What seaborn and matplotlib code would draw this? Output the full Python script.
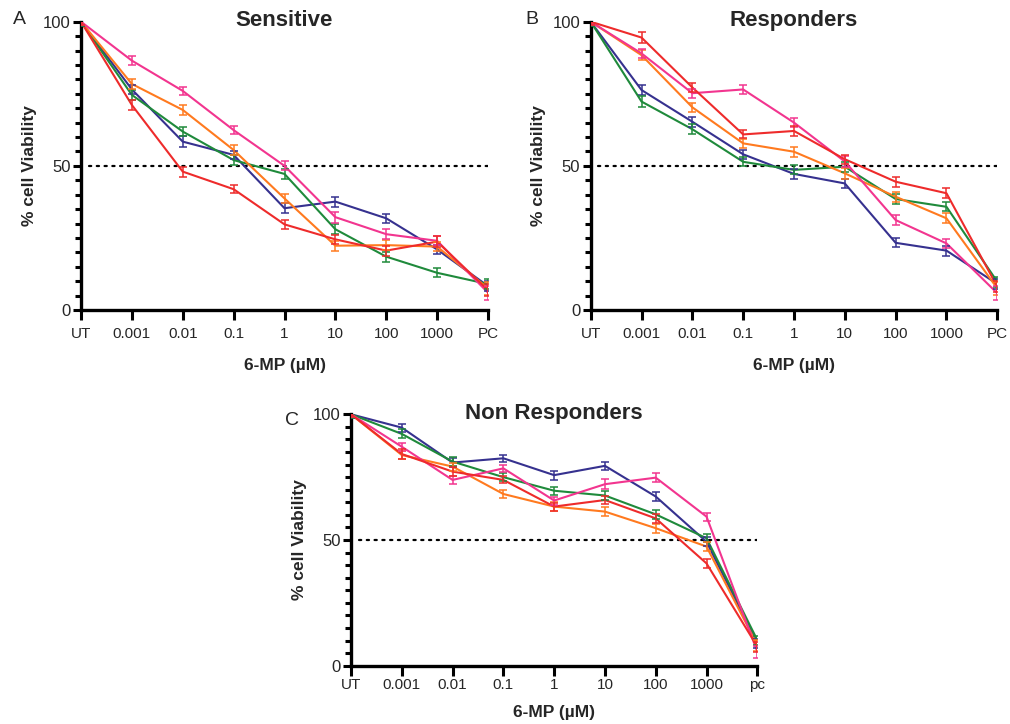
import numpy as np
import pandas as pd
import matplotlib
matplotlib.use("Agg")
import matplotlib.pyplot as plt
from matplotlib.ticker import MultipleLocator
import seaborn as sns

sns.set_theme(style="white")
plt.rcParams["font.family"] = ["Liberation Sans", "DejaVu Sans"]

# Dose categories on the x axis
doses_ab = ["UT", "0.001", "0.01", "0.1", "1", "10", "100", "1000", "PC"]
doses_c = ["UT", "0.001", "0.01", "0.1", "1", "10", "100", "1000", "pc"]

series_names = ["Line 1", "Line 2", "Line 3", "Line 4", "Line 5"]
series_colors = {
    "Line 1": "#36318f",  # navy
    "Line 2": "#1f8a3b",  # green
    "Line 3": "#ff7a1f",  # orange
    "Line 4": "#f2358f",  # pink
    "Line 5": "#ee2b2b",  # red
}

# % cell viability, panel A (Sensitive)
sens_l1 = [100, 76.5, 58.4, 53.8, 35.3, 37.6, 31.8, 21.0, 8.3]
sens_l2 = [100, 74.6, 61.9, 52.0, 47.2, 28.0, 18.5, 12.9, 9.0]
sens_l3 = [100, 78.4, 69.4, 55.5, 38.7, 22.3, 22.5, 22.0, 7.5]
sens_l4 = [100, 86.5, 76.0, 62.4, 50.0, 32.2, 26.3, 24.0, 6.0]
sens_l5 = [100, 71.1, 48.0, 41.9, 29.7, 24.5, 20.6, 23.7, 6.9]

# % cell viability, panel B (Responders)
resp_l1 = [100, 76.3, 65.3, 54.0, 47.2, 43.9, 23.3, 20.6, 9.0]
resp_l2 = [100, 72.3, 62.7, 51.4, 48.6, 49.7, 38.5, 35.8, 9.8]
resp_l3 = [100, 88.4, 70.3, 57.8, 54.9, 47.4, 39.3, 31.8, 7.5]
resp_l4 = [100, 89.0, 75.2, 76.5, 65.0, 51.5, 31.2, 23.1, 5.8]
resp_l5 = [100, 94.5, 77.2, 60.9, 62.1, 52.3, 44.5, 40.5, 8.1]

# % cell viability, panel C (Non Responders)
nonr_l1 = [100, 94.7, 80.8, 82.5, 75.8, 79.5, 67.3, 49.3, 8.9]
nonr_l2 = [100, 92.2, 81.2, 75.0, 69.6, 67.7, 60.2, 50.7, 10.2]
nonr_l3 = [100, 83.8, 79.2, 68.3, 63.3, 61.3, 54.7, 47.4, 8.2]
nonr_l4 = [100, 87.1, 73.9, 78.5, 65.7, 72.2, 74.8, 59.3, 5.6]
nonr_l5 = [100, 84.2, 77.2, 73.9, 63.3, 65.9, 58.6, 40.7, 7.6]

# Standard errors per series and dose
sem_l1 = [1.5, 1.6, 1.8, 1.5, 1.8, 1.7, 1.6, 1.7, 1.8]
sem_l2 = [1.6, 1.8, 1.7, 1.6, 1.6, 1.8, 1.7, 1.6, 1.8]
sem_l3 = [1.2, 1.7, 1.6, 1.6, 1.7, 1.8, 1.8, 1.7, 2.2]
sem_l4 = [1.2, 1.6, 1.5, 1.5, 1.6, 1.9, 1.8, 1.6, 2.4]
sem_l5 = [1.2, 1.9, 1.7, 1.4, 1.6, 1.6, 1.7, 1.8, 2.0]

panels = [
    ("A", "Sensitive", doses_ab, [sens_l1, sens_l2, sens_l3, sens_l4, sens_l5]),
    ("B", "Responders", doses_ab, [resp_l1, resp_l2, resp_l3, resp_l4, resp_l5]),
    ("C", "Non Responders", doses_c, [nonr_l1, nonr_l2, nonr_l3, nonr_l4, nonr_l5]),
]
sems = [sem_l1, sem_l2, sem_l3, sem_l4, sem_l5]

W, H = 1010, 724
fig = plt.figure(figsize=(W / 100, H / 100), dpi=100)


def box(x0, x1, ytop, ybot):
    return [x0 / W, 1 - ybot / H, (x1 - x0) / W, (ybot - ytop) / H]


# axes rectangle, tick-label pad, x-label pad, panel-letter position
layout = [
    (box(81, 488, 21.7, 310), 5.0, 12.5, (-0.152, 1.007)),
    (box(590.7, 997.3, 21.7, 310), 5.0, 12.5, (-0.144, 1.007)),
    (box(351, 757.3, 414.3, 665.7), 1.5, 9.5, (-0.144, 0.976)),
]

for (letter, title, doses, values), (rect, xpad, xlpad, lpos) in zip(panels, layout):
    ax = fig.add_axes(rect)
    frames = []
    for name, vals, err in zip(series_names, values, sems):
        frames.append(pd.DataFrame({
            "pos": np.arange(len(doses)),
            "viability": vals,
            "sem": err,
            "series": name,
        }))
    df = pd.concat(frames, ignore_index=True)

    sns.lineplot(data=df, x="pos", y="viability", hue="series",
                 palette=series_colors, hue_order=series_names,
                 linewidth=1.5, legend=False, ax=ax, zorder=3)
    for name in series_names:
        sub = df[df["series"] == name]
        ax.errorbar(sub["pos"], sub["viability"], yerr=sub["sem"],
                    fmt="none", ecolor=series_colors[name], elinewidth=1.1,
                    capsize=2.8, capthick=1.1, zorder=3)

    # 50 % reference line
    ax.plot([0.15, 8], [50, 50], color="black", linestyle=(0, (1, 2.5)),
            linewidth=1.6, dash_capstyle="round", zorder=2)

    ax.set_xlim(0, 8)
    ax.set_ylim(0, 100)
    ax.set_xticks(range(len(doses)))
    ax.set_xticklabels(doses)
    ax.set_yticks([0, 50, 100])
    ax.yaxis.set_minor_locator(MultipleLocator(5))
    ax.tick_params(axis="x", which="major", direction="out", length=7,
                   width=2.2, pad=xpad, labelsize=11, color="black",
                   bottom=True)
    ax.tick_params(axis="y", which="major", direction="out", length=6,
                   width=2.2, pad=1.5, labelsize=12, color="black",
                   left=True)
    ax.tick_params(axis="y", which="minor", direction="out", length=4,
                   width=2.2, color="black", left=True)
    for side in ("top", "right"):
        ax.spines[side].set_visible(False)
    for side in ("left", "bottom"):
        ax.spines[side].set_linewidth(2.4)
        ax.spines[side].set_color("black")
    ax.set_facecolor("white")
    ax.grid(False)

    ax.set_xlabel("6-MP (µM)", fontsize=12.5, fontweight="bold", labelpad=xlpad)
    ax.set_ylabel("% cell Viability", fontsize=12.5, fontweight="bold",
                  labelpad=4.5)
    ax.text(0.5, 1.005, title, transform=ax.transAxes, ha="center",
            va="center", fontsize=16, fontweight="bold")
    ax.text(lpos[0], lpos[1], letter, transform=ax.transAxes, ha="center",
            va="center", fontsize=14)

fig.savefig("out.png", dpi=100, facecolor="white")
